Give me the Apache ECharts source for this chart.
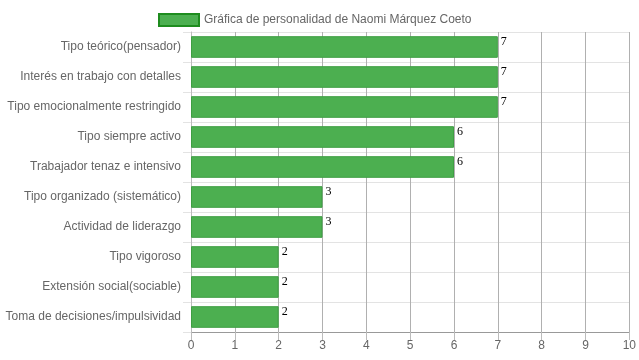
<!DOCTYPE html>
<html><head><meta charset="utf-8">
<script src="https://cdn.jsdelivr.net/npm/echarts@6/dist/echarts.min.js"></script>
<style>html,body{margin:0;padding:0;background:#fff}#c{width:639px;height:360px}</style>
</head><body><div id="c"></div>
<script>
const categories = [
  "Tipo teórico(pensador)",
  "Interés en trabajo con detalles",
  "Tipo emocionalmente restringido",
  "Tipo siempre activo",
  "Trabajador tenaz e intensivo",
  "Tipo organizado (sistemático)",
  "Actividad de liderazgo",
  "Tipo vigoroso",
  "Extensión social(sociable)",
  "Toma de decisiones/impulsividad"
];
const values = [7, 7, 7, 6, 6, 3, 3, 2, 2, 2];
const seriesName = "Gráfica de personalidad de Naomi Márquez Coeto";

const chart = echarts.init(document.getElementById('c'), null, {renderer: 'canvas'});
chart.setOption({
  animation: false,
  textStyle: {fontFamily: 'Liberation Sans, Arial, sans-serif'},
  legend: {
    top: 8, left: 153,
    itemWidth: 40, itemHeight: 12, itemGap: 5,
    textStyle: {color: '#666', fontSize: 12, fontFamily: 'Liberation Sans, Arial, sans-serif'},
    data: [{name: seriesName, icon: 'rect', itemStyle: {color: '#4CAF50', borderColor: '#1E8C1E', borderWidth: 2}}]
  },
  grid: {left: 191, right: 9, top: 32, bottom: 28, containLabel: false},
  xAxis: {
    type: 'value', min: 0, max: 10, interval: 1,
    axisLine: {show: true, lineStyle: {color: '#999'}},
    axisTick: {show: true, length: 8, lineStyle: {color: '#bbb'}},
    axisLabel: {color: '#666', fontSize: 12, margin: 8},
    splitLine: {show: true, lineStyle: {color: '#b0b0b0'}}
  },
  yAxis: {
    type: 'category', data: categories, inverse: true,
    axisLine: {show: true, lineStyle: {color: '#bbb'}},
    axisTick: {show: true, length: 8, lineStyle: {color: '#e3e3e3'}},
    axisLabel: {color: '#666', fontSize: 12, margin: 10},
    splitLine: {show: true, lineStyle: {color: '#e3e3e3'}}
  },
  series: [{
    name: seriesName, type: 'bar', data: values,
    barWidth: '72%',
    itemStyle: {color: '#4CAF50', borderColor: '#3E9E42', borderWidth: 1},
    label: {
      show: true, position: ['100%', 0], offset: [3, 0],
      align: 'left', verticalAlign: 'top',
      color: '#000', fontSize: 12, fontFamily: 'Liberation Serif, Times New Roman, serif'
    }
  }]
});
</script></body></html>
